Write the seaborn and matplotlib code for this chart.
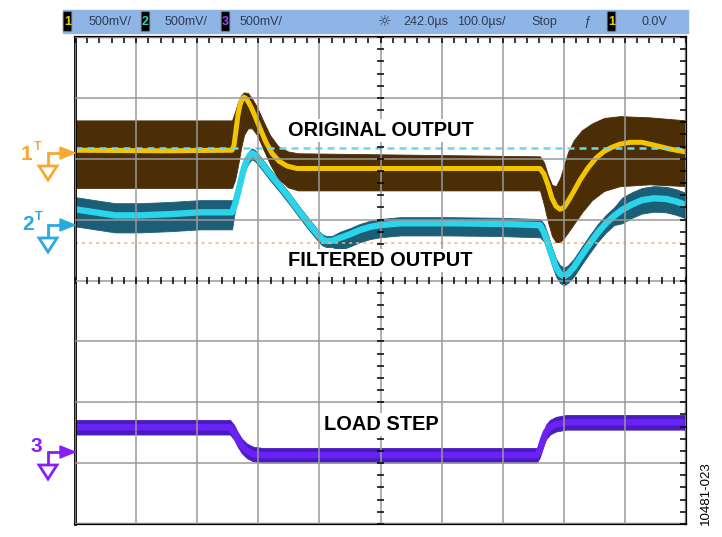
import numpy as np
import matplotlib
matplotlib.use("Agg")
import matplotlib.pyplot as plt
from matplotlib import font_manager
from matplotlib.patches import Polygon, Rectangle, FancyBboxPatch
import seaborn as sns

# ------------------------------------------------------------
# scope traces, in screen divisions (x: 0-10 div, y: 0-8 div)
# ------------------------------------------------------------
# CH1 original output: yellow average + brown noise envelope
orig_x = [0, 1.5, 2.570, 2.602, 2.635, 2.668, 2.700, 2.733, 2.766, 2.799, 2.831, 2.881,
          2.946, 3.028, 3.126, 3.224, 3.339, 3.470, 3.633, 5.5,
          7.610, 7.676, 7.741, 7.807, 7.872, 7.938, 8.003, 8.069, 8.167, 8.265, 8.396,
          8.527, 8.658, 8.789, 8.920, 9.083, 9.280, 9.493, 9.738, 10.0]
orig_y = [6.14, 6.13, 6.14, 6.22, 6.47, 6.72, 6.88, 6.98, 7.01, 6.99, 6.94, 6.85,
          6.70, 6.50, 6.27, 6.09, 5.96, 5.88, 5.84, 5.84,
          5.84, 5.75, 5.57, 5.35, 5.22, 5.17, 5.20, 5.30, 5.47, 5.65, 5.85,
          6.01, 6.12, 6.19, 6.24, 6.27, 6.27, 6.22, 6.16, 6.11]
noise_x = [0, 2.570, 2.619, 2.668, 2.717, 2.766, 2.831, 2.897, 2.979, 3.077, 3.191, 3.322,
           3.486, 3.650, 7.610, 7.676, 7.741, 7.807, 7.872, 7.938, 8.003, 8.069, 8.167,
           8.298, 8.462, 8.658, 8.920, 9.411, 10.0]
noise_top = [6.63, 6.63, 6.77, 6.93, 7.04, 7.09, 7.08, 6.99, 6.85, 6.63, 6.39, 6.21,
             6.12, 6.09, 6.04, 5.94, 5.73, 5.57, 5.55, 5.68, 5.89, 6.11, 6.31,
             6.47, 6.58, 6.67, 6.70, 6.68, 6.63]
noise_bot = [5.52, 5.52, 5.65, 5.89, 6.17, 6.39, 6.50, 6.50, 6.39, 6.17, 5.91, 5.68,
             5.53, 5.48, 5.48, 5.24, 4.96, 4.73, 4.63, 4.63, 4.70, 4.79, 4.93,
             5.12, 5.32, 5.47, 5.55, 5.58, 5.55]

# CH2 filtered output: cyan trace + dark teal envelope (above / below the trace)
filt_x = [0, 0.327, 0.655, 1.064, 1.555, 2.046, 2.570,
          2.619, 2.668, 2.717, 2.766, 2.815, 2.864, 2.897, 2.946, 3.028, 3.191, 3.355,
          3.519, 3.682, 3.846, 3.977, 4.043, 4.108, 4.206,
          4.337, 4.501, 4.664, 4.828, 4.992, 5.319, 6.137, 6.956, 7.610,
          7.676, 7.741, 7.807, 7.872, 7.938, 8.003, 8.069, 8.167, 8.298, 8.429, 8.560,
          8.691, 8.822,
          8.953, 9.116, 9.280, 9.476, 9.673, 9.836, 10.0]
filt_y = [5.17, 5.12, 5.07, 5.07, 5.09, 5.12, 5.12,
          5.25, 5.45, 5.65, 5.85, 5.98, 6.06, 6.09, 6.06, 5.96, 5.75, 5.55,
          5.34, 5.12, 4.91, 4.75, 4.68, 4.65, 4.65,
          4.70, 4.76, 4.83, 4.88, 4.91, 4.94, 4.94, 4.93, 4.91,
          4.79, 4.61, 4.40, 4.22, 4.11, 4.07, 4.11, 4.22, 4.42, 4.61, 4.79,
          4.94, 5.06,
          5.16, 5.25, 5.32, 5.35, 5.34, 5.30, 5.24]
filt_up = [0.20] * 7 + [0.08] * 18 + [0.10] * 9 + [0.14] * 13 + [0.20] * 7
filt_dn = [0.28] * 7 + [0.10] * 18 + [0.20] * 9 + [0.15] * 13 + [0.22] * 7

# CH3 load step
load_x = [0, 2.537, 2.602, 2.668, 2.733, 2.815, 2.913, 3.061, 7.561, 7.610, 7.659,
          7.708, 7.774, 7.872, 8.036, 10.0]
load_y = [1.59, 1.59, 1.51, 1.38, 1.28, 1.20, 1.15, 1.13, 1.13, 1.22, 1.38,
          1.51, 1.59, 1.64, 1.67, 1.67]
load_hw = 0.12

# reference levels shown as dashed lines
ref_cyan = 6.17
ref_orange = 4.61

# top status bar
bar_scale = ["500mV/", "500mV/", "500mV/"]
bar_delay = "242.0µs"
bar_time = "100.0µs/"
bar_mode = "Stop"
bar_trig = "0.0V"

sns.set_style("white")
plt.rcParams['font.family'] = ['Liberation Sans', 'DejaVu Sans']

fig = plt.figure(figsize=(7.22, 5.37), dpi=100)
ax = fig.add_axes([75 / 722, 13 / 537, 611 / 722, 487 / 537])

# traces
ax.fill_between(noise_x, noise_bot, noise_top, color='#4B2E06', lw=0.6, zorder=1)
sns.lineplot(x=orig_x, y=orig_y, ax=ax, color='#F3C400', lw=3.6, sort=False, zorder=1.2)
ax.fill_between(filt_x, np.array(filt_y) - np.array(filt_dn), np.array(filt_y) + np.array(filt_up),
                color='#1C5E78', lw=0.6, zorder=1.3)
sns.lineplot(x=filt_x, y=filt_y, ax=ax, color='#2AD4EA', lw=4.6, sort=False, zorder=1.4)
ax.fill_between(load_x, np.array(load_y) - load_hw, np.array(load_y) + load_hw,
                color='#4A1CC0', lw=0.6, zorder=1.3)
sns.lineplot(x=load_x, y=load_y, ax=ax, color='#6A22F6', lw=4.6, sort=False, zorder=1.4)

ax.axhline(ref_cyan, color='#6FD8E8', lw=1.8, dashes=(2.8, 2), zorder=1.6)
ax.axhline(ref_orange, color='#F5AE7A', lw=1.1, dashes=(2, 2.6), zorder=1.6)

# graticule
ax.set_xlim(0, 10)
ax.set_ylim(0, 8)
ax.set_xticks(np.arange(0, 11))
ax.set_yticks(np.arange(0, 9))
ax.set_xticks(np.arange(0, 10.01, 0.2), minor=True)
ax.set_yticks(np.arange(0, 8.01, 0.2), minor=True)
ax.grid(True, which='major', color='#9A9A9A', lw=1.1)
ax.set_axisbelow(False)
ax.tick_params(which='both', direction='in', length=4.5, width=1.1, color='black',
               top=True, right=True, labelbottom=False, labelleft=False)
for s in ax.spines.values():
    s.set_color('black')
    s.set_linewidth(1.6)
ax.spines['left'].set_linewidth(2.0)
ax.set_xlabel('')
ax.set_ylabel('')
# centre-line ticks
ax.vlines(np.arange(0, 10.01, 0.2), 4 - 0.05, 4 + 0.05, color='black', lw=1.1, zorder=3)
ax.hlines(np.arange(0, 8.01, 0.2), 5 - 0.05, 5 + 0.05, color='black', lw=1.1, zorder=3)

lab = dict(ha='center', va='center', fontsize=14.4, fontweight='bold', color='black',
           bbox=dict(facecolor='white', edgecolor='none', pad=1.5), zorder=10)
ax.text(5.0, 6.47, "ORIGINAL OUTPUT", **lab)
ax.text(5.0, 4.33, "FILTERED OUTPUT", **lab)
ax.text(5.02, 1.64, "LOAD STEP", **lab)

# ------------------------------------------------------------
# overlay in pixel coords: status bar, channel markers, figure id
# ------------------------------------------------------------
ov = fig.add_axes([0, 0, 1, 1], zorder=5)
ov.set_xlim(0, 722)
ov.set_ylim(537, 0)
ov.axis('off')

names = {f.name for f in font_manager.fontManager.ttflist}
if 'Liberation Sans Narrow' in names:
    bar_font, bar_fs = ['Liberation Sans Narrow', 'DejaVu Sans'], 10.5
else:
    bar_font, bar_fs = ['Liberation Sans', 'DejaVu Sans'], 9
bar_col = '#2E3B55'

ov.add_patch(Rectangle((63, 10), 625, 23, color='#8FB5E6', zorder=1))


def chan_box(x, num, col):
    ov.add_patch(FancyBboxPatch((x, 12.5), 7, 18, boxstyle='round,pad=0.8',
                                facecolor='black', edgecolor='#777777', lw=0.6, zorder=2))
    ov.text(x + 3.5, 22, num, color=col, ha='center', va='center', fontsize=9,
            fontweight='bold', zorder=3)


chan_box(64, "1", '#E8D200')
ov.text(89, 22, bar_scale[0], ha='left', va='center', fontsize=bar_fs, family=bar_font, color=bar_col)
chan_box(142, "2", '#30D0B0')
ov.text(165, 22, bar_scale[1], ha='left', va='center', fontsize=bar_fs, family=bar_font, color=bar_col)
chan_box(222, "3", '#9A4AF5')
ov.text(240, 22, bar_scale[2], ha='left', va='center', fontsize=bar_fs, family=bar_font, color=bar_col)
ov.text(385, 22, "☼", ha='center', va='center', fontsize=11, family=['DejaVu Sans'], color=bar_col)
ov.text(403, 22, bar_delay, ha='left', va='center', fontsize=bar_fs, family=bar_font, color=bar_col)
ov.text(457, 22, bar_time, ha='left', va='center', fontsize=bar_fs, family=bar_font, color=bar_col)
ov.text(531, 22, bar_mode, ha='left', va='center', fontsize=bar_fs, family=bar_font, color=bar_col)
ov.text(587, 22, "ƒ", ha='center', va='center', fontsize=bar_fs, color=bar_col, style='italic')
chan_box(608, "1", '#E8D200')
ov.text(642, 22, bar_trig, ha='left', va='center', fontsize=bar_fs, family=bar_font, color=bar_col)


def chan_marker(y, num, col, sup=True, tx=27, ty=0):
    ov.plot([47, 62], [y, y], color=col, lw=2.0, solid_capstyle='butt')
    ov.add_patch(Polygon([[60, y - 6], [60, y + 6], [75, y]], closed=True, color=col))
    ov.plot([47.5, 47.5], [y - 1, y + 13], color=col, lw=2.0, solid_capstyle='butt')
    ov.add_patch(Polygon([[39, y + 13], [57, y + 13], [48, y + 27]], closed=True,
                         fill=False, edgecolor=col, lw=2.0, joinstyle='miter'))
    ov.text(tx, y + ty, num, color=col, ha='center', va='center', fontsize=15, fontweight='bold')
    if sup:
        ov.text(tx + 11, y + ty - 8, "T", color=col, ha='center', va='center',
                fontsize=9, fontweight='bold')


chan_marker(153, "1", '#F6A832', tx=27, ty=2)
chan_marker(225, "2", '#2AA8E0', tx=28, ty=0)
chan_marker(452, "3", '#8A1CF5', sup=False, tx=36, ty=-6)

ov.text(706, 493, "10481-023", rotation=90, ha='center', va='center', fontsize=9.5, color='black')

fig.savefig('out.png', dpi=100)
